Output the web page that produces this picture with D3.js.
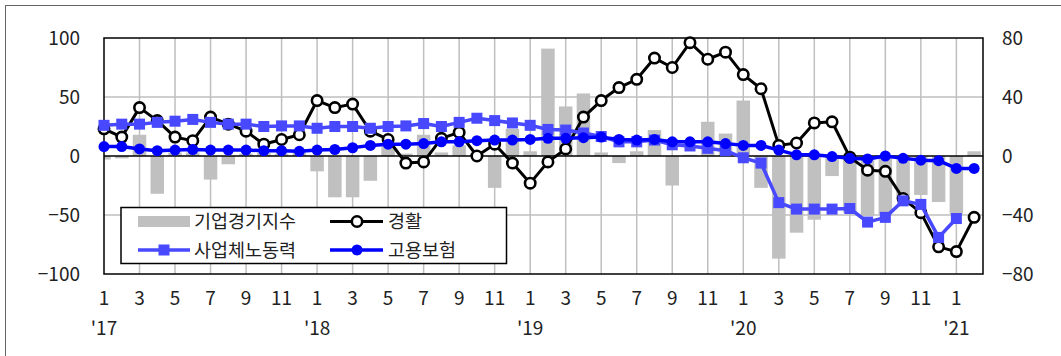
<!DOCTYPE html>
<html>
<head>
<meta charset="utf-8">
<script src="https://cdn.jsdelivr.net/npm/d3@7"></script>
<style>
  html, body { margin: 0; padding: 0; background: #fff; }
  svg { display: block; }
  text { font-family: "Noto Sans CJK KR", "Noto Sans", sans-serif; fill: #222; }
</style>
</head>
<body>
<svg id="chart" width="1061" height="356"></svg>
<script>
// Monthly categories, Jan 2017 – Feb 2021
const months = [
  "2017-01","2017-02","2017-03","2017-04","2017-05","2017-06","2017-07","2017-08","2017-09","2017-10","2017-11","2017-12",
  "2018-01","2018-02","2018-03","2018-04","2018-05","2018-06","2018-07","2018-08","2018-09","2018-10","2018-11","2018-12",
  "2019-01","2019-02","2019-03","2019-04","2019-05","2019-06","2019-07","2019-08","2019-09","2019-10","2019-11","2019-12",
  "2020-01","2020-02","2020-03","2020-04","2020-05","2020-06","2020-07","2020-08","2020-09","2020-10","2020-11","2020-12",
  "2021-01","2021-02"
];

// 기업경기지수 (bars)
const bsi = [-3, -2, 18, -32, 3, 3, -20, -7, 2, 3, 2, 3,
  -13, -35, -35, -21, 8, 2, 18, 3, 9, 2, -27, 23,
  4, 91, 42, 53, 3, -6, 4, 22, -25, 1, 29, 19,
  47, -27, -87, -65, -54, -17, -48, -51, -50, -36, -33, -39,
  -49, 4];

// 경활
const laborSurvey = [23, 16, 41, 30, 16, 13, 33, 27, 21, 10, 14, 18,
  47, 41, 44, 21, 14, -6, -5, 15, 20, 0, 10, -6,
  -23, -5, 6, 33, 47, 58, 65, 83, 75, 96, 82, 88,
  69, 57, 9, 11, 28, 29, -1, -12, -13, -36, -48, -77,
  -81, -52];

// 사업체노동력 (no value yet for the last month)
const establishment = [26, 27, 27, 28.5, 29.5, 31, 28.5, 27, 27, 25, 25.5, 25.5,
  23.5, 25, 25, 23.5, 25, 25.5, 27.5, 25, 28.5, 32, 30, 28,
  26, 22.5, 22, 19.5, 16.5, 12, 12, 13.5, 9.5, 8.5, 6.5, 4.5,
  -1.5, -6, -39.5, -45, -45, -45, -44.5, -56, -52, -38, -41, -69,
  -53, null];

// 고용보험
const insurance = [8, 8, 6, 4.5, 5, 5.5, 5, 5, 5, 4.5, 4.5, 4,
  5, 5.5, 7, 9, 10, 10, 10.5, 12, 12, 13, 13.5, 13.5,
  14, 15, 15, 15.5, 16, 14, 13.5, 14, 12, 12, 12, 10.5,
  9, 9, 5, 1, 1, -0.5, -2, -2.5, 0, -2, -3.5, -4,
  -10.5, -10.5];

const leftTicks = [100, 50, 0, -50, -100];
const rightTicks = [80, 40, 0, -40, -80];
const seriesNames = ["기업경기지수", "경활", "사업체노동력", "고용보험"];

const svg = d3.select("#chart");
const plot = { left: 104, right: 983, top: 38, bottom: 274 };

const x = d3.scaleLinear().domain([0, months.length - 0.5]).range([plot.left, plot.right]);
const yL = d3.scaleLinear().domain([-100, 100]).range([plot.bottom, plot.top]);
const yR = d3.scaleLinear().domain([-80, 80]).range([plot.bottom, plot.top]);

const fmt = v => (v < 0 ? "\u2212" + Math.abs(v) : String(v));
const monthNum = m => +m.slice(5);
const idx = d3.range(months.length);

// outer frame of the figure
svg.append("rect").attr("x", 5.5).attr("y", 5.5).attr("width", 1100).attr("height", 400)
  .attr("fill", "none").attr("stroke", "#666").attr("stroke-width", 1);

svg.append("clipPath").attr("id", "plotClip").append("rect")
  .attr("x", plot.left).attr("y", plot.top)
  .attr("width", plot.right - plot.left).attr("height", plot.bottom - plot.top);

// gridlines
const grid = svg.append("g").attr("stroke", "#bfbfbf").attr("stroke-width", 1.5);
grid.selectAll("line.h").data(leftTicks.filter(t => Math.abs(t) !== 100 && t !== 0)).join("line")
  .attr("x1", plot.left).attr("x2", plot.right).attr("y1", d => yL(d)).attr("y2", d => yL(d));
grid.selectAll("line.v").data(idx.filter(i => i % 2 === 0 && i > 0)).join("line")
  .attr("x1", d => x(d)).attr("x2", d => x(d)).attr("y1", plot.top).attr("y2", plot.bottom);

// bars
const barW = 13.5;
svg.append("g").attr("clip-path", "url(#plotClip)")
  .selectAll("rect").data(idx).join("rect")
  .attr("x", i => x(i) - barW / 2).attr("width", barW)
  .attr("y", i => yL(Math.max(0, bsi[i])))
  .attr("height", i => Math.abs(yL(bsi[i]) - yL(0)))
  .attr("fill", "#c0c0c0");

// zero line and plot frame
svg.append("line").attr("x1", plot.left).attr("x2", plot.right).attr("y1", yL(0)).attr("y2", yL(0))
  .attr("stroke", "#000").attr("stroke-width", 1.5);
svg.append("rect").attr("x", plot.left).attr("y", plot.top)
  .attr("width", plot.right - plot.left).attr("height", plot.bottom - plot.top)
  .attr("fill", "none").attr("stroke", "#000").attr("stroke-width", 1.5);

// axes labels
const fs = 19;
svg.append("g").selectAll("text").data(leftTicks).join("text")
  .attr("x", 80).attr("y", d => yL(d)).attr("dy", "0.36em").attr("text-anchor", "end")
  .attr("font-size", fs).text(fmt);
svg.append("g").selectAll("text").data(rightTicks).join("text")
  .attr("x", 1002).attr("y", d => yR(d)).attr("dy", "0.36em").attr("text-anchor", "start")
  .attr("font-size", fs).text(fmt);
svg.append("g").selectAll("text").data(idx.filter(i => monthNum(months[i]) % 2 === 1)).join("text")
  .attr("x", i => x(i)).attr("y", 305).attr("text-anchor", "middle")
  .attr("font-size", fs).text(i => monthNum(months[i]));
svg.append("g").selectAll("text").data(idx.filter(i => monthNum(months[i]) === 1)).join("text")
  .attr("x", i => x(i)).attr("y", 335).attr("text-anchor", "middle")
  .attr("font-size", fs).text(i => "'" + months[i].slice(2, 4));

// lines
const lineGen = arr => d3.line().defined(i => arr[i] !== null).x(i => x(i)).y(i => yL(arr[i]));

// 경활
svg.append("path").datum(idx).attr("d", lineGen(laborSurvey))
  .attr("fill", "none").attr("stroke", "#000").attr("stroke-width", 3).attr("stroke-linejoin", "round");
svg.append("g").selectAll("circle").data(idx).join("circle")
  .attr("cx", i => x(i)).attr("cy", i => yL(laborSurvey[i])).attr("r", 5.2)
  .attr("fill", "#fff").attr("stroke", "#000").attr("stroke-width", 2.6);

// 사업체노동력
const estIdx = idx.filter(i => establishment[i] !== null);
svg.append("path").datum(estIdx).attr("d", lineGen(establishment))
  .attr("fill", "none").attr("stroke", "#4848ff").attr("stroke-width", 3.5).attr("stroke-linejoin", "round");
const sq = 11;
svg.append("g").selectAll("rect").data(estIdx).join("rect")
  .attr("x", i => x(i) - sq / 2).attr("y", i => yL(establishment[i]) - sq / 2)
  .attr("width", sq).attr("height", sq).attr("fill", "#4848ff");

// 고용보험
svg.append("path").datum(idx).attr("d", lineGen(insurance))
  .attr("fill", "none").attr("stroke", "#0000ff").attr("stroke-width", 3.5).attr("stroke-linejoin", "round");
svg.append("g").selectAll("circle").data(idx).join("circle")
  .attr("cx", i => x(i)).attr("cy", i => yL(insurance[i])).attr("r", 5.5)
  .attr("fill", "#0000ff");

// legend
const lg = svg.append("g");
lg.append("rect").attr("x", 121).attr("y", 207.5).attr("width", 385.5).attr("height", 56)
  .attr("fill", "#fff").attr("stroke", "#000").attr("stroke-width", 1.5);
const rows = [221.5, 250];
// 기업경기지수
lg.append("rect").attr("x", 138).attr("y", rows[0] - 5.5).attr("width", 52).attr("height", 11).attr("fill", "#c0c0c0");
// 경활
lg.append("line").attr("x1", 330).attr("x2", 383).attr("y1", rows[0]).attr("y2", rows[0]).attr("stroke", "#000").attr("stroke-width", 3);
lg.append("circle").attr("cx", 357).attr("cy", rows[0]).attr("r", 5.2).attr("fill", "#fff").attr("stroke", "#000").attr("stroke-width", 2.6);
// 사업체노동력
lg.append("line").attr("x1", 138).attr("x2", 190).attr("y1", rows[1]).attr("y2", rows[1]).attr("stroke", "#4848ff").attr("stroke-width", 3.5);
lg.append("rect").attr("x", 164 - sq / 2).attr("y", rows[1] - sq / 2).attr("width", sq).attr("height", sq).attr("fill", "#4848ff");
// 고용보험
lg.append("line").attr("x1", 330).attr("x2", 383).attr("y1", rows[1]).attr("y2", rows[1]).attr("stroke", "#0000ff").attr("stroke-width", 3.5);
lg.append("circle").attr("cx", 357).attr("cy", rows[1]).attr("r", 5.5).attr("fill", "#0000ff");

const legendText = [[194, rows[0], seriesNames[0]], [388, rows[0], seriesNames[1]],
                    [194, rows[1], seriesNames[2]], [388, rows[1], seriesNames[3]]];
lg.selectAll("text").data(legendText).join("text")
  .attr("x", d => d[0]).attr("y", d => d[1]).attr("dy", "0.36em")
  .attr("font-size", 18.5).text(d => d[2]);
</script>
</body>
</html>
